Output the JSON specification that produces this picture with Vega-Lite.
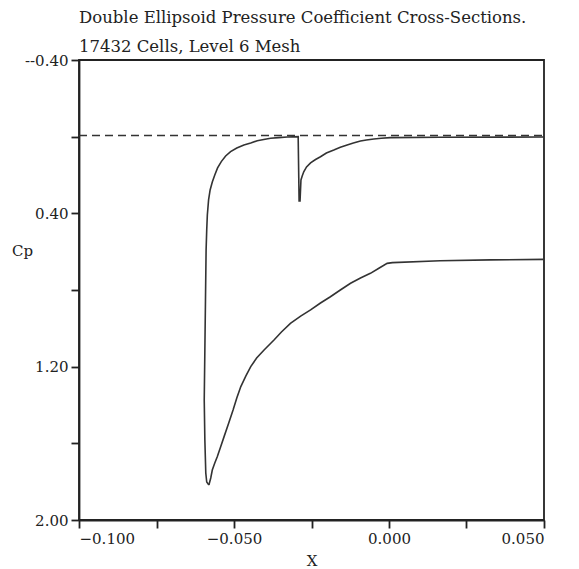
{
  "$schema": "https://vega.github.io/schema/vega-lite/v6.json",
  "width": 465,
  "height": 460,
  "autosize": "none",
  "padding": {"left": 79, "top": 60, "right": 35, "bottom": 49},
  "background": "white",
  "title": {
    "text": ["Double Ellipsoid Pressure Coefficient Cross-Sections.", "17432 Cells, Level 6 Mesh"],
    "anchor": "start",
    "frame": "group",
    "font": "DejaVu Serif",
    "fontSize": 16.5,
    "fontWeight": "normal",
    "color": "#222",
    "lineHeight": 29,
    "offset": -2
  },
  "config": {
    "view": {"stroke": "#222", "strokeWidth": 1.8},
    "axis": {
      "grid": false,
      "domainColor": "#222",
      "domainWidth": 1.8,
      "tickColor": "#222",
      "tickWidth": 1.8,
      "tickSize": 8,
      "labelFont": "DejaVu Serif",
      "labelFontSize": 15,
      "labelColor": "#222",
      "titleFont": "DejaVu Serif",
      "titleFontSize": 15,
      "titleFontWeight": "normal",
      "titleColor": "#222"
    }
  },
  "data": {
    "values": [
      {"s": "ref", "i": 0, "x": -0.1, "cp": -0.006},
      {"s": "ref", "i": 1, "x": 0.05, "cp": -0.006},
      {"s": "A", "i": 0, "x": -0.0581, "cp": 1.817},
      {"s": "A", "i": 1, "x": -0.0588, "cp": 1.802},
      {"s": "A", "i": 2, "x": -0.0591, "cp": 1.755},
      {"s": "A", "i": 3, "x": -0.0594, "cp": 1.583},
      {"s": "A", "i": 4, "x": -0.0596, "cp": 1.374},
      {"s": "A", "i": 5, "x": -0.0594, "cp": 1.113},
      {"s": "A", "i": 6, "x": -0.0592, "cp": 0.852},
      {"s": "A", "i": 7, "x": -0.059, "cp": 0.591},
      {"s": "A", "i": 8, "x": -0.0588, "cp": 0.487},
      {"s": "A", "i": 9, "x": -0.0586, "cp": 0.409},
      {"s": "A", "i": 10, "x": -0.0582, "cp": 0.33},
      {"s": "A", "i": 11, "x": -0.0577, "cp": 0.278},
      {"s": "A", "i": 12, "x": -0.057, "cp": 0.237},
      {"s": "A", "i": 13, "x": -0.0562, "cp": 0.2},
      {"s": "A", "i": 14, "x": -0.0553, "cp": 0.163},
      {"s": "A", "i": 15, "x": -0.0541, "cp": 0.13},
      {"s": "A", "i": 16, "x": -0.0527, "cp": 0.101},
      {"s": "A", "i": 17, "x": -0.0511, "cp": 0.078},
      {"s": "A", "i": 18, "x": -0.0491, "cp": 0.059},
      {"s": "A", "i": 19, "x": -0.0468, "cp": 0.043},
      {"s": "A", "i": 20, "x": -0.0446, "cp": 0.033},
      {"s": "A", "i": 21, "x": -0.0425, "cp": 0.021},
      {"s": "A", "i": 22, "x": -0.0404, "cp": 0.015},
      {"s": "A", "i": 23, "x": -0.0382, "cp": 0.008},
      {"s": "A", "i": 24, "x": -0.0356, "cp": 0.005},
      {"s": "A", "i": 25, "x": -0.0328, "cp": 0.002},
      {"s": "A", "i": 26, "x": -0.0293, "cp": 0.0},
      {"s": "A", "i": 27, "x": -0.029, "cp": 0.336},
      {"s": "A", "i": 28, "x": -0.0287, "cp": 0.336},
      {"s": "A", "i": 29, "x": -0.0284, "cp": 0.226},
      {"s": "A", "i": 30, "x": -0.028, "cp": 0.205},
      {"s": "A", "i": 31, "x": -0.0275, "cp": 0.183},
      {"s": "A", "i": 32, "x": -0.0266, "cp": 0.158},
      {"s": "A", "i": 33, "x": -0.0253, "cp": 0.137},
      {"s": "A", "i": 34, "x": -0.0237, "cp": 0.119},
      {"s": "A", "i": 35, "x": -0.0221, "cp": 0.105},
      {"s": "A", "i": 36, "x": -0.0202, "cp": 0.085},
      {"s": "A", "i": 37, "x": -0.0178, "cp": 0.07},
      {"s": "A", "i": 38, "x": -0.0157, "cp": 0.055},
      {"s": "A", "i": 39, "x": -0.0135, "cp": 0.043},
      {"s": "A", "i": 40, "x": -0.0115, "cp": 0.033},
      {"s": "A", "i": 41, "x": -0.0092, "cp": 0.023},
      {"s": "A", "i": 42, "x": -0.0073, "cp": 0.017},
      {"s": "A", "i": 43, "x": -0.0049, "cp": 0.012},
      {"s": "A", "i": 44, "x": -0.0025, "cp": 0.008},
      {"s": "A", "i": 45, "x": 0.0004, "cp": 0.005},
      {"s": "A", "i": 46, "x": 0.0165, "cp": 0.003},
      {"s": "A", "i": 47, "x": 0.05, "cp": 0.002},
      {"s": "B", "i": 0, "x": -0.0581, "cp": 1.817},
      {"s": "B", "i": 1, "x": -0.0575, "cp": 1.781},
      {"s": "B", "i": 2, "x": -0.057, "cp": 1.739},
      {"s": "B", "i": 3, "x": -0.0562, "cp": 1.703},
      {"s": "B", "i": 4, "x": -0.0554, "cp": 1.67},
      {"s": "B", "i": 5, "x": -0.0543, "cp": 1.618},
      {"s": "B", "i": 6, "x": -0.0532, "cp": 1.565},
      {"s": "B", "i": 7, "x": -0.0517, "cp": 1.494},
      {"s": "B", "i": 8, "x": -0.0503, "cp": 1.426},
      {"s": "B", "i": 9, "x": -0.0491, "cp": 1.363},
      {"s": "B", "i": 10, "x": -0.0478, "cp": 1.304},
      {"s": "B", "i": 11, "x": -0.0462, "cp": 1.249},
      {"s": "B", "i": 12, "x": -0.0446, "cp": 1.2},
      {"s": "B", "i": 13, "x": -0.0427, "cp": 1.155},
      {"s": "B", "i": 14, "x": -0.0403, "cp": 1.113},
      {"s": "B", "i": 15, "x": -0.0371, "cp": 1.061},
      {"s": "B", "i": 16, "x": -0.0347, "cp": 1.019},
      {"s": "B", "i": 17, "x": -0.0318, "cp": 0.974},
      {"s": "B", "i": 18, "x": -0.0285, "cp": 0.936},
      {"s": "B", "i": 19, "x": -0.0253, "cp": 0.904},
      {"s": "B", "i": 20, "x": -0.0221, "cp": 0.868},
      {"s": "B", "i": 21, "x": -0.0189, "cp": 0.835},
      {"s": "B", "i": 22, "x": -0.0157, "cp": 0.8},
      {"s": "B", "i": 23, "x": -0.0124, "cp": 0.765},
      {"s": "B", "i": 24, "x": -0.0092, "cp": 0.737},
      {"s": "B", "i": 25, "x": -0.006, "cp": 0.713},
      {"s": "B", "i": 26, "x": -0.0034, "cp": 0.688},
      {"s": "B", "i": 27, "x": -0.0006, "cp": 0.661},
      {"s": "B", "i": 28, "x": 0.0011, "cp": 0.657},
      {"s": "B", "i": 29, "x": 0.0165, "cp": 0.647},
      {"s": "B", "i": 30, "x": 0.0326, "cp": 0.643},
      {"s": "B", "i": 31, "x": 0.05, "cp": 0.64}
    ]
  },
  "encoding": {
    "x": {
      "field": "x",
      "type": "quantitative",
      "scale": {"domain": [-0.1, 0.05], "nice": false, "zero": false},
      "axis": {
        "title": "X",
        "values": [-0.1, -0.075, -0.05, -0.025, 0, 0.025, 0.05],
        "format": ".3f",
        "labelExpr": "abs(datum.value*1000 % 50) < 0.001 ? datum.label : ''",
        "labelPadding": 3,
        "titleY": 40,
        "titleBaseline": "middle"
      }
    },
    "y": {
      "field": "cp",
      "type": "quantitative",
      "scale": {"domain": [-0.4, 2.0], "reverse": true, "nice": false, "zero": false},
      "axis": {
        "title": "Cp",
        "values": [-0.4, 0, 0.4, 0.8, 1.2, 1.6, 2.0],
        "format": ".2f",
        "labelExpr": "datum.value < -0.3 ? '--0.40' : (abs(datum.value - 0.4) < 0.01 || abs(datum.value - 1.2) < 0.01 || abs(datum.value - 2.0) < 0.01 ? datum.label : '')",
        "labelPadding": 3,
        "titleAngle": 0,
        "titleX": -57,
        "titleY": 190,
        "titleAlign": "center",
        "titleBaseline": "middle"
      }
    }
  },
  "layer": [
    {
      "transform": [{"filter": "datum.s == 'ref'"}],
      "mark": {"type": "line", "color": "#333", "strokeWidth": 1.3, "strokeDash": [8, 5]},
      "encoding": {"order": {"field": "i", "type": "quantitative"}}
    },
    {
      "transform": [{"filter": "datum.s != 'ref'"}],
      "mark": {"type": "line", "color": "#333", "strokeWidth": 1.6},
      "encoding": {
        "detail": {"field": "s", "type": "nominal"},
        "order": {"field": "i", "type": "quantitative"}
      }
    }
  ]
}
